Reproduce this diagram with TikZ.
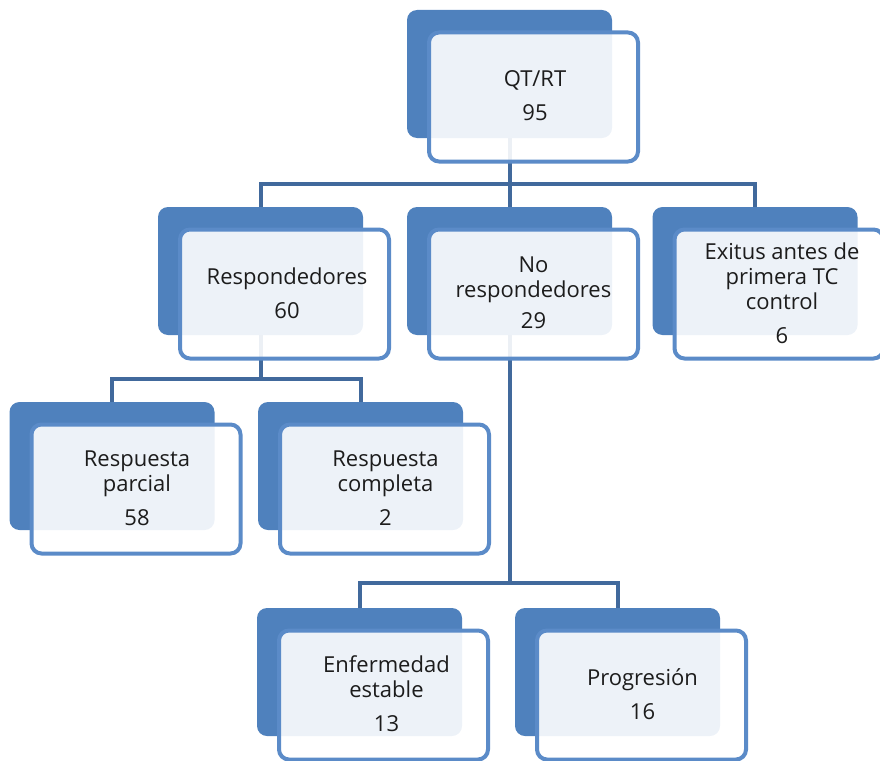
\documentclass[tikz,border=0pt]{standalone}
\usepackage{fontspec}
\setmainfont{Open Sans}
\usetikzlibrary{backgrounds}
\definecolor{backblue}{HTML}{4F81BD}
\definecolor{frameblue}{HTML}{5B8BC8}
\definecolor{connblue}{HTML}{41699C}
\definecolor{txtcol}{HTML}{1C1C1C}
\begin{document}
\begin{tikzpicture}[x=1pt,y=-1pt,
  backbox/.style={draw=none,fill=backblue,rounded corners=10pt,minimum width=205pt,minimum height=128pt,inner sep=0pt},
  frontbox/.style={draw=frameblue,line width=4pt,fill=white,fill opacity=0.9,rounded corners=10pt,minimum width=209pt,minimum height=129pt,inner sep=0pt},
  txt/.style={align=center,text=txtcol,font=\fontsize{22}{25}\selectfont,inner sep=0pt},
  conn/.style={draw=connblue,line width=4pt}]
\useasboundingbox (0,0) rectangle (880,760);
\clip (0,0) rectangle (880,760);
% back boxes
\node[backbox] (qtb) at (509.5,74) {};
\node[backbox] (reb) at (260.5,271) {};
\node[backbox] (nob) at (509.5,271) {};
\node[backbox] (exb) at (755,271) {};
\node[backbox] (rpb) at (112,466) {};
\node[backbox] (rcb) at (360.5,466) {};
\node[backbox] (eeb) at (359.5,672) {};
\node[backbox] (prb) at (617.5,672) {};
% bus levels
\coordinate (bus1) at (0,184);
\coordinate (bus2) at (0,379);
\coordinate (bus3) at (0,583);
% connectors, behind the boxes
\begin{pgfonlayer}{background}
\draw[conn] (qtb.center) -- (qtb.center |- bus1);
\draw[conn] (reb.north) |- (qtb.center |- bus1) -| (exb.north);
\draw[conn] (qtb.center |- bus1) -- (nob.north);
\draw[conn] (reb.center) -- (reb.center |- bus2);
\draw[conn] (rpb.north) |- (reb.center |- bus2) -| (rcb.north);
\draw[conn] (nob.center) -- (nob.center |- bus3);
\draw[conn] (eeb.north) |- (nob.center |- bus3) -| (prb.north);
\end{pgfonlayer}
% front frames
\node[frontbox] (qtf) at (533.5,97) {};
\node[frontbox] (ref) at (284.5,294) {};
\node[frontbox] (nof) at (533.5,294) {};
\node[frontbox] (exf) at (779,294) {};
\node[frontbox] (rpf) at (136,489) {};
\node[frontbox] (rcf) at (384.5,489) {};
\node[frontbox] (eef) at (383.5,695) {};
\node[frontbox] (prf) at (641.5,695) {};
% texts
\node[txt] (qtt) at ([xshift=1.5pt,yshift=1pt]qtf.center) {QT/RT\\[9pt]95};
\node[txt] (ret) at ([xshift=2.5pt,yshift=1pt]ref.center) {Respondedores\\[9pt]60};
\node[txt] (not) at ([xshift=0pt,yshift=1pt]nof.center) {No\\respondedores\\[6pt]29};
\node[txt] (ext) at ([xshift=3pt,yshift=1pt]exf.center) {Exitus antes de\\primera TC\\control\\[9pt]6};
\node[txt] (rpt) at ([xshift=1pt,yshift=1pt]rpf.center) {Respuesta\\parcial\\[9pt]58};
\node[txt] (rct) at ([xshift=1pt,yshift=1pt]rcf.center) {Respuesta\\completa\\[9pt]2};
\node[txt] (eet) at ([xshift=3pt,yshift=1pt]eef.center) {Enfermedad\\estable\\[9pt]13};
\node[txt] (prt) at ([xshift=1pt,yshift=1pt]prf.center) {Progresión\\[9pt]16};
\end{tikzpicture}
\end{document}
